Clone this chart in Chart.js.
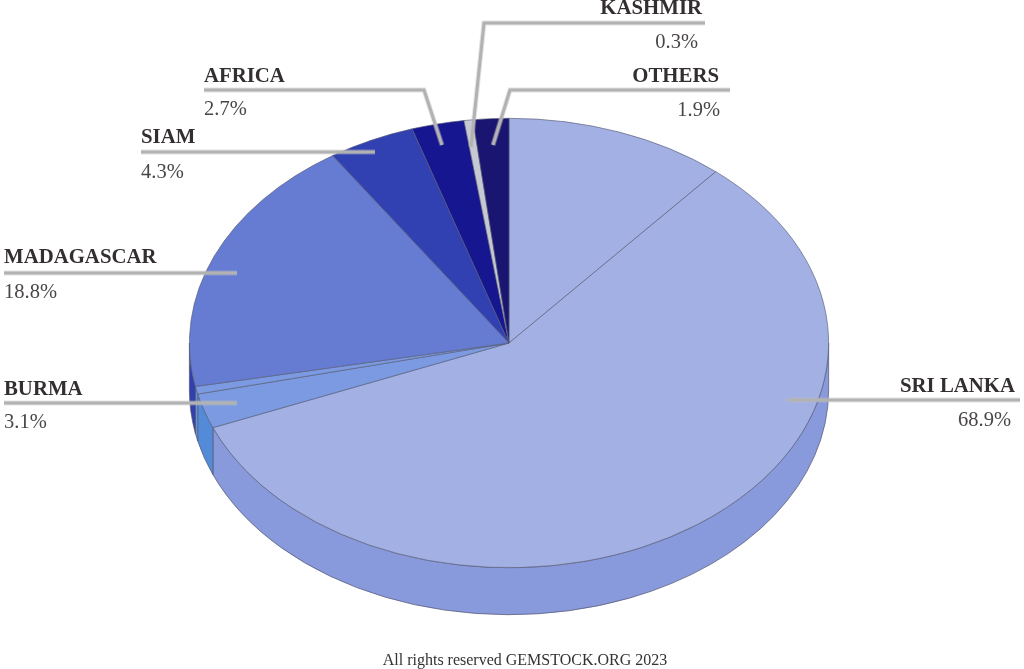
<!DOCTYPE html>
<html>
<head>
<meta charset="utf-8">
<title>Sapphire origins</title>
<script src="https://cdn.jsdelivr.net/npm/chart.js@4"></script>
<style>
    html, body { margin: 0; padding: 0; background: #fff; }
    canvas { display: block; }
</style>
</head>
<body>
<canvas id="pieChart" width="1024" height="669"></canvas>
<script>
// data, clockwise from 12 o'clock. Sri Lanka and Burma are each drawn in two pieces
// slice sizes are read off the drawing, the printed shares are in labelShares
const sliceNames = ['SRI LANKA', 'SRI LANKA', 'BURMA', 'BURMA', 'MADAGASCAR', 'SIAM', 'AFRICA', 'KASHMIR', 'OTHERS'];
const sliceValues = [11.2, 57.65, 2.5, 0.55, 18.8, 4.4, 2.65, 0.45, 1.8];

const labelNames = ['SRI LANKA', 'BURMA', 'MADAGASCAR', 'SIAM', 'AFRICA', 'KASHMIR', 'OTHERS'];
const labelShares = ['68.9%', '3.1%', '18.8%', '4.3%', '2.7%', '0.3%', '1.9%'];

// colours per slice
const faceColors = ['#a2b0e4', '#a2b0e4', '#7b9ae2', '#7b9ae2', '#657cd2', '#3141b2', '#161690', '#c6c9d4', '#1a1570'];
const wallColors = ['#8899dc', '#8899dc', '#548bd8', '#5f93dc', '#3040b0', '#3141b2', '#161690', '#c6c9d4', '#1a1570'];
const edgeColor = '#565b74';

// look of the tilted pie
const TILT = 0.703;
const DEPTH = 47;

// callouts: text anchors and leader line paths
const callouts = [
    { align: 'right', x: 1015, y: 392, shareX: 1011, shareY: 426, path: [[1020, 400], [787, 400]] },
    { align: 'left', x: 4, y: 395, shareX: 4, shareY: 428, path: [[4, 403], [237, 403]] },
    { align: 'left', x: 4, y: 263, shareX: 4, shareY: 298, path: [[4, 273], [237, 273]] },
    { align: 'left', x: 141, y: 143, shareX: 141, shareY: 178, path: [[141, 152], [375, 152]] },
    { align: 'left', x: 204, y: 82, shareX: 204, shareY: 115, path: [[204, 90], [424, 90], [442, 145]] },
    { align: 'right', x: 702, y: 14, shareX: 698, shareY: 48, path: [[705, 23], [484, 23], [471, 147]] },
    { align: 'right', x: 719, y: 82, shareX: 720, shareY: 116, path: [[730, 90], [510, 90], [493, 145]] }
];

// squash the pie and draw the side wall under it
const tiltPlugin = {
    id: 'tilt',
    beforeDatasetsDraw(chart) {
        const ctx = chart.ctx;
        const arcs = chart.getDatasetMeta(0).data;
        const cx = arcs[0].x;
        const cy = arcs[0].y;
        const rx = arcs[0].outerRadius;
        const ry = rx * TILT;

        ctx.save();
        ctx.lineWidth = 0.75;
        ctx.strokeStyle = edgeColor;
        arcs.forEach((arc, i) => {
            // only the front half of the rim is visible
            const from = Math.max(arc.startAngle, 0);
            const to = Math.min(arc.endAngle, Math.PI);
            if (to <= from) return;
            ctx.beginPath();
            ctx.ellipse(cx, cy, rx, ry, 0, from, to);
            ctx.ellipse(cx, cy + DEPTH, rx, ry, 0, to, from, true);
            ctx.closePath();
            ctx.fillStyle = wallColors[i];
            ctx.fill();
            ctx.stroke();
        });
        ctx.restore();

        ctx.save();
        ctx.translate(cx, cy);
        ctx.scale(1, TILT);
        ctx.translate(-cx, -cy);
    },
    afterDatasetsDraw(chart) {
        chart.ctx.restore();
        drawCallouts(chart.ctx);
    }
};

function drawCallouts(ctx) {
    ctx.save();
    ctx.lineJoin = 'miter';
    callouts.forEach((c, i) => {
        // soft edge first, then the line itself
        [[5, 'rgba(190,190,190,0.45)'], [3, '#b2b2b2']].forEach(([w, col]) => {
            ctx.beginPath();
            c.path.forEach(([x, y], k) => k ? ctx.lineTo(x, y) : ctx.moveTo(x, y));
            ctx.lineWidth = w;
            ctx.strokeStyle = col;
            ctx.stroke();
        });

        ctx.textAlign = c.align;
        ctx.textBaseline = 'alphabetic';
        ctx.fillStyle = '#332f30';
        ctx.font = 'bold 20.8px "Liberation Serif"';
        ctx.fillText(labelNames[i], c.x, c.y);
        ctx.fillStyle = '#4a4647';
        ctx.font = '20.5px "Liberation Serif"';
        ctx.fillText(labelShares[i], c.shareX, c.shareY);
    });

    ctx.textAlign = 'center';
    ctx.fillStyle = '#333';
    ctx.font = '16px "Liberation Serif"';
    ctx.fillText('All rights reserved GEMSTOCK.ORG 2023', 525, 665);
    ctx.restore();
}

new Chart(document.getElementById('pieChart'), {
    type: 'pie',
    data: {
        labels: sliceNames,
        datasets: [{
            data: sliceValues,
            backgroundColor: faceColors,
            borderColor: edgeColor,
            borderWidth: 0.75
        }]
    },
    options: {
        responsive: false,
        animation: false,
        layout: { padding: { left: 189, right: 195, top: 23, bottom: 6 } },
        plugins: {
            legend: { display: false },
            tooltip: { enabled: false }
        }
    },
    plugins: [tiltPlugin]
});
</script>
</body>
</html>
